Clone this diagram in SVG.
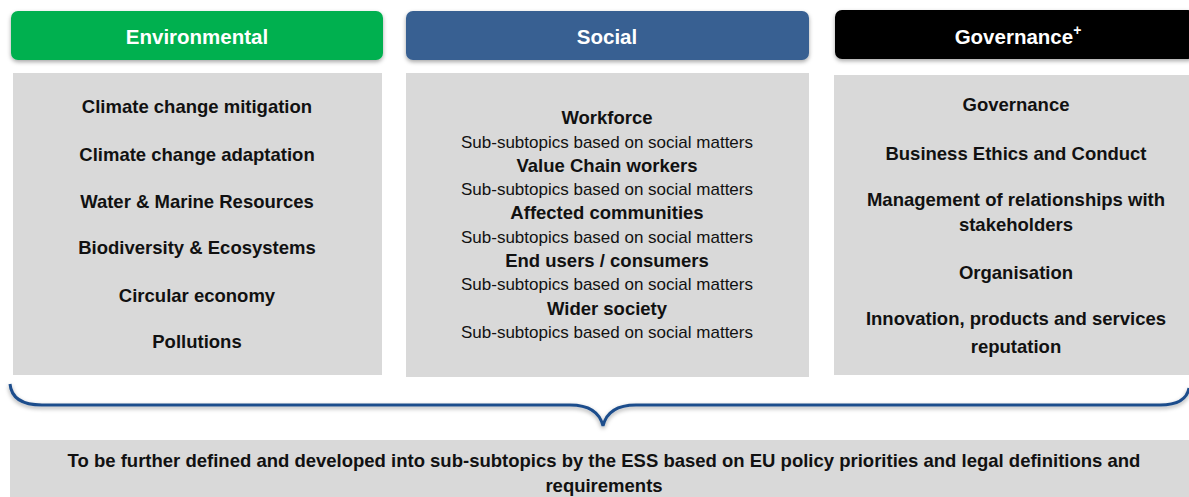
<svg xmlns="http://www.w3.org/2000/svg" width="1189" height="497" viewBox="0 0 1189 497">
<style>
.hdr{font-family:"Liberation Sans",Arial,sans-serif;font-weight:bold;font-size:20.5px;fill:#fff;text-anchor:middle}
.b{font-family:"Liberation Sans",Arial,sans-serif;font-weight:bold;font-size:18.5px;fill:#111;text-anchor:middle}
.n{font-family:"Liberation Sans",Arial,sans-serif;font-size:17px;fill:#111;text-anchor:middle}
.box{fill:#D9D9D9}
</style>
<defs>
<filter id="sh" x="-5%" y="-20%" width="110%" height="150%">
<feDropShadow dx="0" dy="2" stdDeviation="2" flood-color="#000" flood-opacity="0.35"/>
</filter>
</defs>
<rect width="1189" height="497" fill="#fff"/>
<g id="env-header"><rect x="11" y="11" width="372" height="49" rx="7" fill="#00B050" filter="url(#sh)"/><text class="hdr" x="197" y="44">Environmental</text></g>
<g id="soc-header"><rect x="406" y="11" width="403" height="49" rx="7" fill="#376092" filter="url(#sh)"/><text class="hdr" x="607" y="44">Social</text></g>
<g id="gov-header"><rect x="835" y="10" width="360" height="49" rx="7" fill="#000" filter="url(#sh)"/><text class="hdr" x="1018" y="44">Governance<tspan font-size="14" dy="-9">+</tspan></text></g>
<g id="env-box"><rect class="box" x="13" y="73" width="369" height="302"/>
<text class="b" x="197" y="113">Climate change mitigation</text>
<text class="b" x="197" y="161">Climate change adaptation</text>
<text class="b" x="197" y="208">Water &amp; Marine Resources</text>
<text class="b" x="197" y="254">Biodiversity &amp; Ecosystems</text>
<text class="b" x="197" y="302">Circular economy</text>
<text class="b" x="197" y="348">Pollutions</text></g>
<g id="soc-box"><rect class="box" x="406" y="73" width="403" height="304"/>
<text class="b" x="607" y="124">Workforce</text>
<text class="n" x="607" y="148">Sub-subtopics based on social matters</text>
<text class="b" x="607" y="172">Value Chain workers</text>
<text class="n" x="607" y="195">Sub-subtopics based on social matters</text>
<text class="b" x="607" y="219">Affected communities</text>
<text class="n" x="607" y="243">Sub-subtopics based on social matters</text>
<text class="b" x="607" y="267">End users / consumers</text>
<text class="n" x="607" y="290">Sub-subtopics based on social matters</text>
<text class="b" x="607" y="315">Wider society</text>
<text class="n" x="607" y="338">Sub-subtopics based on social matters</text></g>
<g id="gov-box"><rect class="box" x="834" y="75" width="355" height="300"/>
<text class="b" x="1016" y="111">Governance</text>
<text class="b" x="1016" y="160">Business Ethics and Conduct</text>
<text class="b" x="1016" y="206">Management of relationships with</text>
<text class="b" x="1016" y="231">stakeholders</text>
<text class="b" x="1016" y="279">Organisation</text>
<text class="b" x="1016" y="325">Innovation, products and services</text>
<text class="b" x="1016" y="353">reputation</text></g>
<g id="connectors"><path d="M10 384 Q12 405 42 405 L570 405 Q598 405 603 426 Q608 405 636 405 L1160 405 Q1186 405 1189 388" fill="none" stroke="#1F4E8C" stroke-width="3" filter="url(#sh)"/></g>
<g id="bottom-box"><rect class="box" x="10" y="440" width="1179" height="57"/>
<text class="b" x="604" y="467">To be further defined and developed into sub-subtopics by the ESS based on EU policy priorities and legal definitions and</text>
<text class="b" x="604" y="492">requirements</text></g>
</svg>
